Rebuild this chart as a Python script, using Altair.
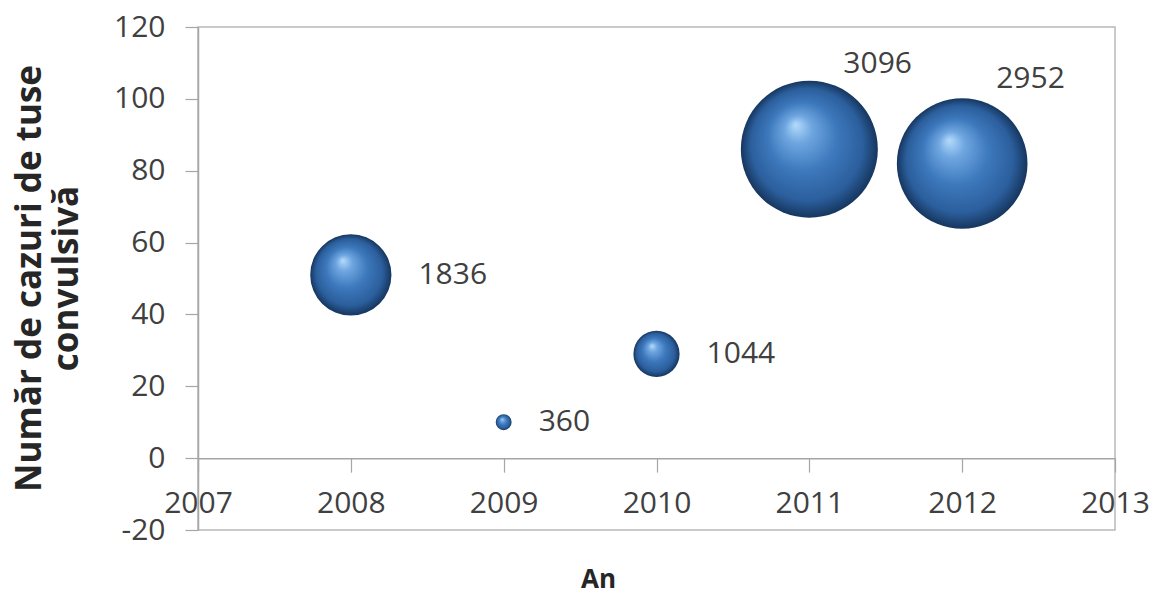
import altair as alt
import pandas as pd

# Pertussis (tuse convulsivă) cases per year; bubble width scaled by case count
years = [2008, 2009, 2010, 2011, 2012]
rate = [51, 10, 29, 86, 82]
cases = [1836, 360, 1044, 3096, 2952]

x_ticks = [2007, 2008, 2009, 2010, 2011, 2012, 2013]
y_ticks = [-20, 0, 20, 40, 60, 80, 100, 120]

df = pd.DataFrame({"An": years, "rate": rate, "cases": cases})

W, H = 917, 503
Y_MIN, Y_MAX = -20, 120
MAX_DIAM = 137          # diameter of the largest bubble, px
cmax = max(cases)

FONT = "Open Sans"
LABEL_COLOR = "#404040"
AXIS_COLOR = "#a6a6a6"

sphere = alt.RadialGradient(
    gradient="radial",
    x1=0.4, y1=0.32, r1=0.0,
    x2=0.5, y2=0.5, r2=0.5,
    stops=[
        alt.GradientStop(offset=0.0, color="#b4dbfc"),
        alt.GradientStop(offset=0.2, color="#6fa6e0"),
        alt.GradientStop(offset=0.5, color="#3d79bd"),
        alt.GradientStop(offset=0.82, color="#2b5e9c"),
        alt.GradientStop(offset=1.0, color="#16365e"),
    ],
)

x_enc = alt.X(
    "An:Q",
    scale=alt.Scale(domain=[2007, 2013], nice=False, zero=False),
    axis=alt.Axis(
        values=x_ticks,
        format="d",
        offset=-H * (0 - Y_MIN) / (Y_MAX - Y_MIN),
        grid=False,
        domainColor=AXIS_COLOR,
        domainWidth=1.5,
        tickColor=AXIS_COLOR,
        tickSize=14,
        tickWidth=1.2,
        labelFlush=False,
        labelOverlap=False,
        labelPadding=16,
        labelBaseline="top",
        title="An",
        titleX=400,
        titleY=129,
        titleAnchor="start",
        titleAlign="center",
        titleBaseline="alphabetic",
        titleFontSize=26,
    ),
)

y_enc = alt.Y(
    "rate:Q",
    scale=alt.Scale(domain=[Y_MIN, Y_MAX], nice=False, zero=False),
    axis=alt.Axis(
        values=y_ticks,
        labelExpr="toString(datum.value)",
        grid=False,
        domainColor=AXIS_COLOR,
        domainWidth=1.5,
        tickColor=AXIS_COLOR,
        tickSize=13,
        tickWidth=1.2,
        labelFlush=False,
        labelOverlap=False,
        labelPadding=20,
        title=["Număr de cazuri de tuse", "convulsivă"],
        titleAngle=-90,
        titleX=-186,
        titleY=251,
        titleAlign="center",
        titleBaseline="top",
        titleFontSize=35,
        titleLineHeight=37,
    ),
)

bubbles = alt.Chart(df).mark_circle(
    fill=sphere, opacity=1, fillOpacity=1, strokeWidth=0
).encode(
    x=x_enc,
    y=y_enc,
    size=alt.Size(
        "cases:Q",
        scale=alt.Scale(type="pow", exponent=2, domain=[0, cmax],
                        range=[0, MAX_DIAM ** 2]),
        legend=None,
    ),
)

# labels to the right of the smaller bubbles, just past the bubble edge
radius_expr = f"datum.cases / {cmax} * {MAX_DIAM / 2}"
labels_right = alt.Chart(df).transform_filter("datum.An <= 2010").mark_text(
    align="left", baseline="middle", font=FONT, fontSize=30,
    color=LABEL_COLOR, dx=alt.expr(f"{radius_expr} + 27"),
).encode(x="An:Q", y="rate:Q", text=alt.Text("cases:Q", format="d"))

# labels above-right of the two large bubbles
labels_top = alt.Chart(df).transform_filter("datum.An >= 2011").mark_text(
    align="left", baseline="middle", font=FONT, fontSize=30,
    color=LABEL_COLOR, dx=34, dy=-85,
).encode(x="An:Q", y="rate:Q", text=alt.Text("cases:Q", format="d"))

chart = (
    alt.layer(bubbles, labels_right, labels_top)
    .properties(
        width=W,
        height=H,
        autosize=alt.AutoSizeParams(type="none"),
        padding={"left": 198, "top": 27, "right": 38, "bottom": 69},
        background="white",
    )
    .configure_view(stroke="#b8b8b8", strokeWidth=1.5)
    .configure_axis(
        labelFont=FONT,
        labelFontSize=30,
        labelColor=LABEL_COLOR,
        titleFont=FONT,
        titleFontWeight="bold",
        titleColor="#262626",
    )
)

chart.save("out.html", embed_options={"renderer": "svg", "actions": False})
